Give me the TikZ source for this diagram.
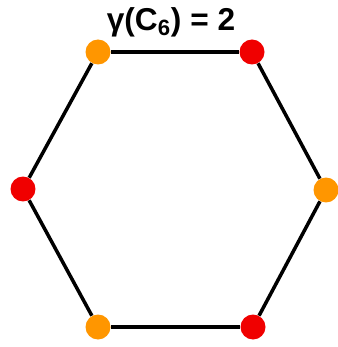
\documentclass[tikz,border=0pt]{standalone}
\usepackage{fontspec}
\setmainfont{Liberation Sans}
\usepackage{xcolor}
\definecolor{domorange}{RGB}{255, 150, 0}
\definecolor{domred}{RGB}{240, 0, 0}
\usepackage{tikz}
\usetikzlibrary{positioning}

\begin{document}
\begin{tikzpicture}[x=0.02cm, y=-0.02cm,
  vertex/.style={circle, minimum size=0.5cm, inner sep=0pt},
  dom/.style={vertex, fill=domorange},
  other/.style={vertex, fill=domred},
  edge/.style={line width=2pt, black}
]
  \useasboundingbox (0,0) rectangle (337,347);

  \node[font=\bfseries\fontsize{18}{21}\selectfont] (title) at (171,22) {γ(C\textsubscript{6}) = 2};

  \node[dom] (v1) at (98,52) {};
  \node[other] (v2) at (252,52) {};
  \node[dom] (v3) at (326,190) {};
  \node[other] (v4) at (253,327) {};
  \node[dom] (v5) at (98,327) {};
  \node[other] (v6) at (23,189) {};

  \draw[edge] (v1) -- (v2);
  \draw[edge] (v2) -- (v3);
  \draw[edge] (v3) -- (v4);
  \draw[edge] (v4) -- (v5);
  \draw[edge] (v5) -- (v6);
  \draw[edge] (v6) -- (v1);
\end{tikzpicture}
\end{document}
